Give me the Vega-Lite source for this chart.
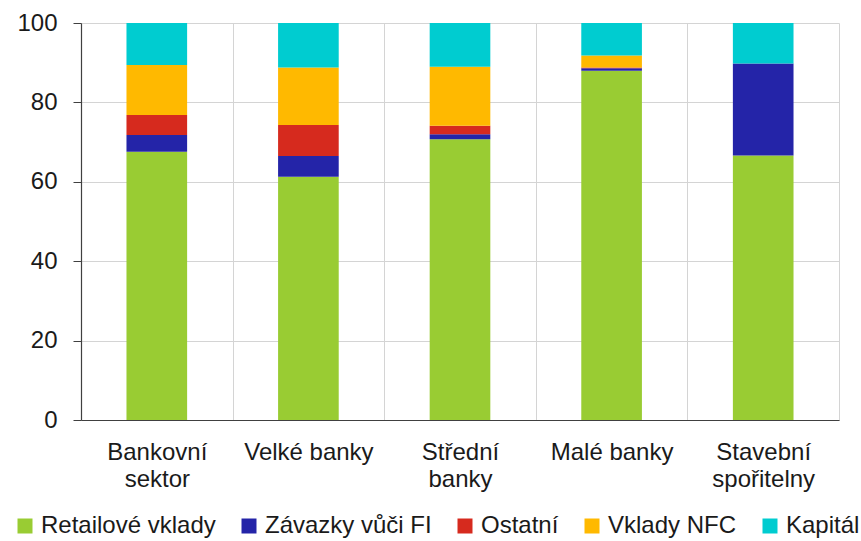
{
  "$schema": "https://vega.github.io/schema/vega-lite/v6.json",
  "width": 758,
  "height": 397,
  "autosize": {"type": "none"},
  "padding": {"left": 81, "top": 23, "right": 22, "bottom": 121},
  "background": "white",
  "config": {
    "font": "Liberation Sans",
    "view": {"stroke": null},
    "axis": {"labelFont": "Liberation Sans", "labelColor": "#1a1a1a", "titleFont": "Liberation Sans"}
  },
  "data": {
    "values": [
      {"kategorie": "Bankovní sektor", "slozka": "Retailové vklady", "k": 1, "podil": 67.6},
      {"kategorie": "Bankovní sektor", "slozka": "Závazky vůči FI", "k": 2, "podil": 4.2},
      {"kategorie": "Bankovní sektor", "slozka": "Ostatní", "k": 3, "podil": 5.0},
      {"kategorie": "Bankovní sektor", "slozka": "Vklady NFC", "k": 4, "podil": 12.6},
      {"kategorie": "Bankovní sektor", "slozka": "Kapitál", "k": 5, "podil": 10.6},
      {"kategorie": "Velké banky", "slozka": "Retailové vklady", "k": 1, "podil": 61.3},
      {"kategorie": "Velké banky", "slozka": "Závazky vůči FI", "k": 2, "podil": 5.2},
      {"kategorie": "Velké banky", "slozka": "Ostatní", "k": 3, "podil": 7.8},
      {"kategorie": "Velké banky", "slozka": "Vklady NFC", "k": 4, "podil": 14.5},
      {"kategorie": "Velké banky", "slozka": "Kapitál", "k": 5, "podil": 11.2},
      {"kategorie": "Střední banky", "slozka": "Retailové vklady", "k": 1, "podil": 70.7},
      {"kategorie": "Střední banky", "slozka": "Závazky vůči FI", "k": 2, "podil": 1.3},
      {"kategorie": "Střední banky", "slozka": "Ostatní", "k": 3, "podil": 2.1},
      {"kategorie": "Střední banky", "slozka": "Vklady NFC", "k": 4, "podil": 14.9},
      {"kategorie": "Střední banky", "slozka": "Kapitál", "k": 5, "podil": 11.0},
      {"kategorie": "Malé banky", "slozka": "Retailové vklady", "k": 1, "podil": 88.0},
      {"kategorie": "Malé banky", "slozka": "Závazky vůči FI", "k": 2, "podil": 0.6},
      {"kategorie": "Malé banky", "slozka": "Ostatní", "k": 3, "podil": 0.2},
      {"kategorie": "Malé banky", "slozka": "Vklady NFC", "k": 4, "podil": 3.0},
      {"kategorie": "Malé banky", "slozka": "Kapitál", "k": 5, "podil": 8.2},
      {"kategorie": "Stavební spořitelny", "slozka": "Retailové vklady", "k": 1, "podil": 66.6},
      {"kategorie": "Stavební spořitelny", "slozka": "Závazky vůči FI", "k": 2, "podil": 23.2},
      {"kategorie": "Stavební spořitelny", "slozka": "Ostatní", "k": 3, "podil": 0},
      {"kategorie": "Stavební spořitelny", "slozka": "Vklady NFC", "k": 4, "podil": 0},
      {"kategorie": "Stavební spořitelny", "slozka": "Kapitál", "k": 5, "podil": 10.2}
    ]
  },
  "mark": {"type": "bar", "width": {"band": 0.4}},
  "encoding": {
    "x": {
      "field": "kategorie",
      "type": "nominal",
      "sort": ["Bankovní sektor", "Velké banky", "Střední banky", "Malé banky", "Stavební spořitelny"],
      "scale": {"paddingInner": 0, "paddingOuter": 0},
      "axis": {
        "title": null,
        "labelAngle": 0,
        "labelFontSize": 24,
        "labelLineHeight": 27.5,
        "labelPadding": 20,
        "ticks": false,
        "tickBand": "extent",
        "grid": true,
        "gridColor": "#d4d4d4",
        "gridWidth": 1,
        "domainColor": "#404040",
        "domainWidth": 1.2,
        "labelExpr": "(datum.label == 'Velké banky' || datum.label == 'Malé banky') ? datum.label : split(datum.label, ' ')"
      }
    },
    "y": {
      "field": "podil",
      "type": "quantitative",
      "stack": "zero",
      "scale": {"domain": [0, 100], "nice": false},
      "axis": {
        "title": null,
        "values": [0, 20, 40, 60, 80, 100],
        "labelFontSize": 24,
        "labelPadding": 16,
        "tickSize": 8,
        "tickColor": "#404040",
        "domainColor": "#404040",
        "domainWidth": 1.2,
        "gridColor": "#d4d4d4",
        "gridWidth": 1
      }
    },
    "color": {
      "field": "slozka",
      "type": "nominal",
      "scale": {
        "domain": ["Retailové vklady", "Závazky vůči FI", "Ostatní", "Vklady NFC", "Kapitál"],
        "range": ["#99CC33", "#2424A8", "#D62A1E", "#FFB900", "#00CCD0"]
      },
      "legend": {
        "title": null,
        "orient": "none",
        "direction": "horizontal",
        "legendX": -68,
        "legendY": 491,
        "padding": 0,
        "symbolType": "square",
        "symbolSize": 225,
        "symbolStrokeWidth": 0,
        "symbolOpacity": 1,
        "labelFont": "Liberation Sans",
        "labelFontSize": 24,
        "labelColor": "#1a1a1a",
        "labelOffset": 4,
        "columnPadding": 21,
        "labelLimit": 400
      }
    },
    "order": {"field": "k", "type": "quantitative"}
  }
}
